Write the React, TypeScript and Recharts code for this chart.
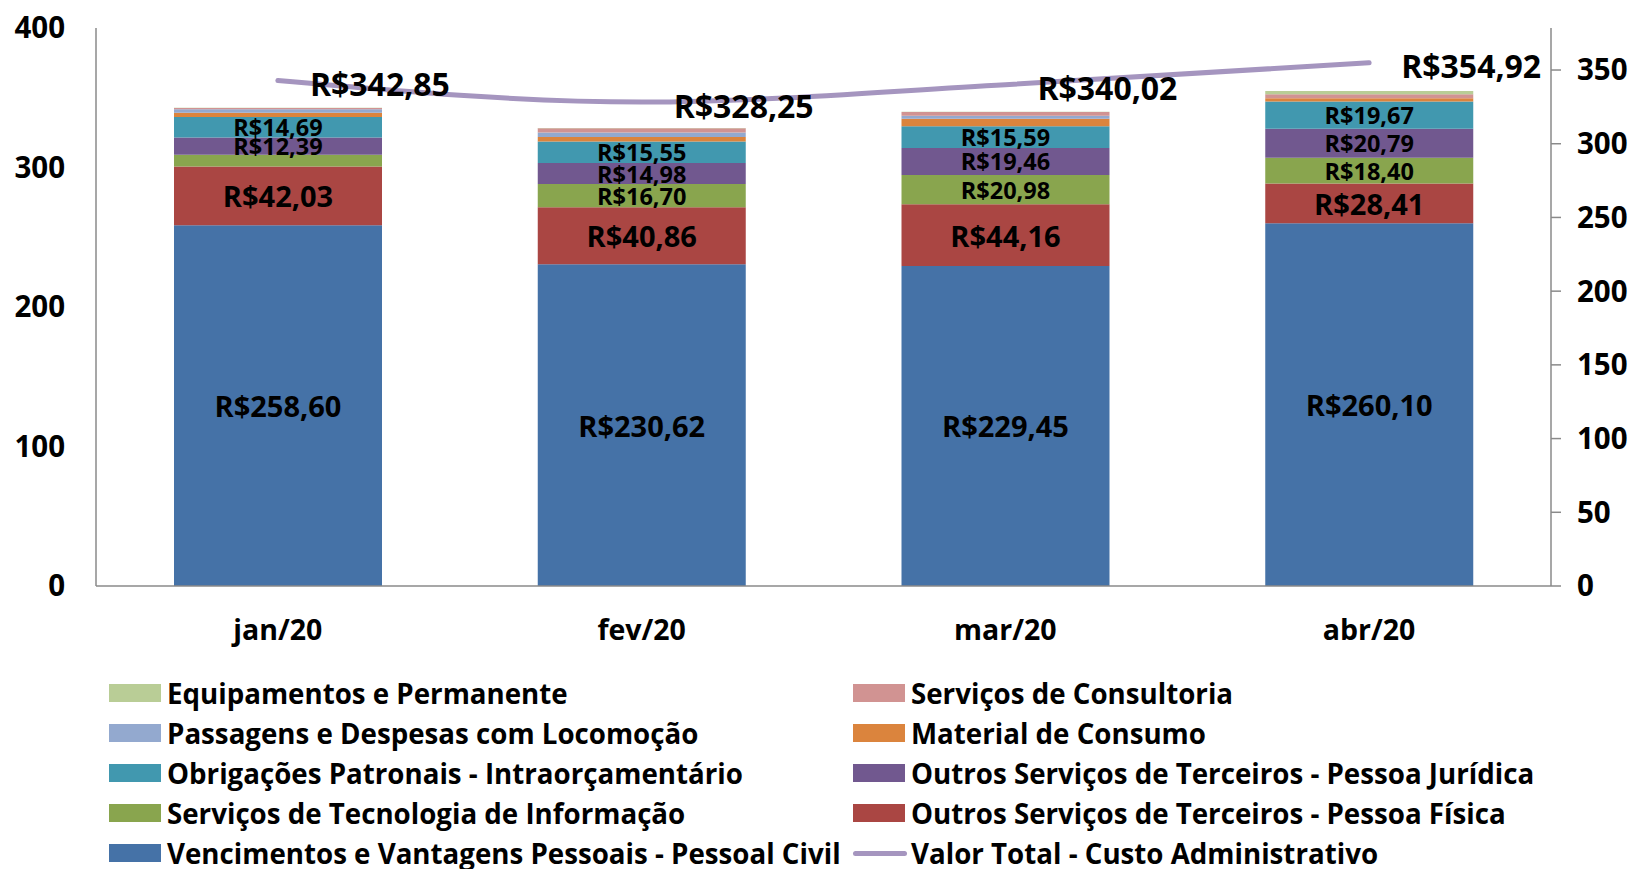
import React from 'react';
import { ComposedChart, Bar, Line, XAxis, YAxis, Legend, LabelList } from 'recharts';

// valores em R$ milhões, por mês
const categories = ['jan/20', 'fev/20', 'mar/20', 'abr/20'];
const vencimentos = [258.6, 230.62, 229.45, 260.1];
const pessoaFisica = [42.03, 40.86, 44.16, 28.41];
const tecnologia = [8.45, 16.7, 20.98, 18.4];
const pessoaJuridica = [12.39, 14.98, 19.46, 20.79];
const obrigacoes = [14.69, 15.55, 15.59, 19.67];
const material = [3.1, 3.2, 5.3, 2.3];
const passagens = [2.55, 3.2, 2.1, 0.05];
const consultoria = [0.9, 3.0, 2.8, 2.8];
const equipamentos = [0.14, 0.14, 0.18, 2.4];
const valorTotal = [342.85, 328.25, 340.02, 354.92];

const leftTicks = [0, 100, 200, 300, 400];
const rightTicks = [0, 50, 100, 150, 200, 250, 300, 350];

const data = categories.map((name, i) => ({
  name,
  vencimentos: vencimentos[i],
  pessoaFisica: pessoaFisica[i],
  tecnologia: tecnologia[i],
  pessoaJuridica: pessoaJuridica[i],
  obrigacoes: obrigacoes[i],
  material: material[i],
  passagens: passagens[i],
  consultoria: consultoria[i],
  equipamentos: equipamentos[i],
  total: valorTotal[i],
}));

// ordem de empilhamento: de baixo para cima
const bars = [
  { key: 'vencimentos', name: 'Vencimentos e Vantagens Pessoais - Pessoal Civil', color: '#4572A7', size: 29 },
  { key: 'pessoaFisica', name: 'Outros Serviços de Terceiros - Pessoa Física', color: '#AA4643', size: 29 },
  { key: 'tecnologia', name: 'Serviços de Tecnologia de Informação', color: '#89A54E', size: 23.5 },
  { key: 'pessoaJuridica', name: 'Outros Serviços de Terceiros - Pessoa Jurídica', color: '#71588F', size: 23.5 },
  { key: 'obrigacoes', name: 'Obrigações Patronais - Intraorçamentário', color: '#4198AF', size: 23.5 },
  { key: 'material', name: 'Material de Consumo', color: '#DB843D', size: 23.5 },
  { key: 'passagens', name: 'Passagens e Despesas com Locomoção', color: '#93A9CF', size: 23.5 },
  { key: 'consultoria', name: 'Serviços de Consultoria', color: '#D19392', size: 23.5 },
  { key: 'equipamentos', name: 'Equipamentos e Permanente', color: '#B9CD96', size: 23.5 },
];

const lineColor = '#A595BF';
const lineName = 'Valor Total - Custo Administrativo';

const legendLeft = ['equipamentos', 'passagens', 'obrigacoes', 'tecnologia', 'vencimentos'];
const legendRight = ['consultoria', 'material', 'pessoaJuridica', 'pessoaFisica', 'total'];

const fmt = (v: number) => 'R$' + v.toFixed(2).replace('.', ',');

const box = (p: any) => {
  const vb = p.viewBox || {};
  return {
    x: p.x ?? vb.x ?? 0,
    y: p.y ?? vb.y ?? 0,
    width: p.width ?? vb.width ?? 0,
    height: p.height ?? vb.height ?? 0,
  };
};

const barLabel = (size: number) => (p: any) => {
  const v = Number(p.value);
  if (!(v >= 10)) return null;
  const { x, y, width, height } = box(p);
  return (
    <text
      x={x + width / 2}
      y={y + height / 2}
      textAnchor="middle"
      dominantBaseline="central"
      fontSize={size}
      fontWeight={700}
      fill="#000"
    >
      {fmt(v)}
    </text>
  );
};

const lineLabel = (p: any) => {
  const { x, y } = box(p);
  return (
    <text x={x + 32} y={y + 3} textAnchor="start" dominantBaseline="central" fontSize={32} fontWeight={700} fill="#000">
      {fmt(Number(p.value))}
    </text>
  );
};

const LegendItem = ({ id }: { id: string }) => {
  const bar = bars.find((b) => b.key === id);
  const label = bar ? bar.name : lineName;
  return (
    <div style={{ display: 'flex', alignItems: 'center', height: 40 }}>
      {bar ? (
        <div style={{ width: 52, height: 18, background: bar.color, marginRight: 6 }} />
      ) : (
        <div style={{ width: 54, height: 5, borderRadius: 3, background: lineColor, marginRight: 4 }} />
      )}
      <span style={{ fontSize: 27.7, fontWeight: 700, color: '#000', whiteSpace: 'nowrap' }}>{label}</span>
    </div>
  );
};

const renderLegend = () => (
  <div style={{ position: 'relative', width: 1636, height: 200 }}>
    <div style={{ position: 'absolute', left: 109, top: 0 }}>
      {legendLeft.map((id) => (
        <LegendItem key={id} id={id} />
      ))}
    </div>
    <div style={{ position: 'absolute', left: 853, top: 0 }}>
      {legendRight.map((id) => (
        <LegendItem key={id} id={id} />
      ))}
    </div>
  </div>
);

const tickStyle = { fontSize: 29.5, fontWeight: 700, fill: '#000' };

export default function App() {
  return (
    <div style={{ position: 'absolute', left: 0, top: 0, fontFamily: '"Open Sans", sans-serif', background: '#fff' }}>
      <ComposedChart width={1636} height={869} data={data} margin={{ top: 28, right: 0, left: 0, bottom: 203 }}>
        <XAxis
          dataKey="name"
          height={80}
          axisLine={{ stroke: '#8a8a8a', strokeWidth: 1.5 }}
          tickLine={false}
          tickSize={0}
          tickMargin={34}
          tick={{ fontSize: 28.5, fontWeight: 700, fill: '#000' }}
        />
        <YAxis
          yAxisId="left"
          width={96}
          domain={[0, 400]}
          ticks={leftTicks}
          axisLine={{ stroke: '#8a8a8a', strokeWidth: 1.5 }}
          tickLine={false}
          tickSize={0}
          tickMargin={31}
          tick={tickStyle}
        />
        <YAxis
          yAxisId="right"
          orientation="right"
          width={85}
          domain={[0, 378.5]}
          ticks={rightTicks}
          axisLine={{ stroke: '#8a8a8a', strokeWidth: 1.5 }}
          tickLine={{ stroke: '#8a8a8a', strokeWidth: 1.5 }}
          tickSize={10}
          tickMargin={16}
          tick={tickStyle}
        />
        <Legend
          verticalAlign="middle"
          align="center"
          layout="horizontal"
          wrapperStyle={{ top: 673, left: 0, width: 1636 }}
          content={renderLegend}
        />
        {bars.map((b) => (
          <Bar
            key={b.key}
            dataKey={b.key}
            name={b.name}
            stackId="a"
            yAxisId="left"
            fill={b.color}
            barSize={208}
            isAnimationActive={false}
          >
            <LabelList dataKey={b.key} content={barLabel(b.size)} />
          </Bar>
        ))}
        <Line
          yAxisId="right"
          dataKey="total"
          name={lineName}
          type="monotone"
          stroke={lineColor}
          strokeWidth={5}
          strokeLinecap="round"
          dot={false}
          isAnimationActive={false}
        >
          <LabelList dataKey="total" content={lineLabel} />
        </Line>
      </ComposedChart>
    </div>
  );
}
